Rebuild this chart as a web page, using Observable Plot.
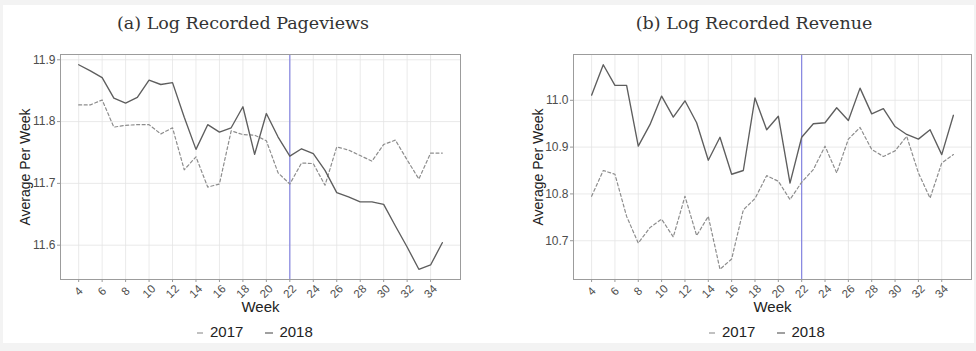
<!DOCTYPE html>
<html>
<head>
<meta charset="utf-8">
<script src="https://cdn.jsdelivr.net/npm/d3@7"></script>
<script src="https://cdn.jsdelivr.net/npm/@observablehq/plot@0.6"></script>
<style>
  html, body { margin: 0; padding: 0; background: #f3f3f3; }
  #root { position: relative; width: 976px; height: 351px; overflow: hidden; background: #f3f3f3; }
  #sheet { position: absolute; left: 3px; top: 5px; width: 971px; height: 338px; background: #ffffff; }
  .title { position: absolute; top: 11px; font-family: "DejaVu Serif", "Liberation Serif", serif; font-size: 17.5px; color: #333; white-space: nowrap; transform: translateX(-50%); line-height: 24px; }
  .panel { position: absolute; top: 40px; }
  .legend { position: absolute; top: 322px; font-family: "Liberation Sans", Arial, sans-serif; font-size: 15px; color: #222; white-space: nowrap; line-height: 20px; }
  .legend svg { vertical-align: middle; }
</style>
</head>
<body>
<div id="root"><div id="sheet"></div></div>
<script>
// ---- data ----
const weeks = [4,5,6,7,8,9,10,11,12,13,14,15,16,17,18,19,20,21,22,23,24,25,26,27,28,29,30,31,32,33,34,35];
const weekTicks = [4,6,8,10,12,14,16,18,20,22,24,26,28,30,32,34];
const treatmentWeek = [22];
const years = ["2017", "2018"];

const pageviews2017 = [11.827,11.827,11.835,11.791,11.794,11.795,11.795,11.780,11.790,11.722,11.743,11.694,11.699,11.785,11.779,11.778,11.769,11.717,11.699,11.733,11.732,11.697,11.759,11.754,11.745,11.736,11.763,11.770,11.738,11.707,11.749,11.749];
const pageviews2018 = [11.892,11.882,11.871,11.838,11.830,11.839,11.867,11.860,11.863,11.807,11.755,11.795,11.783,11.790,11.824,11.747,11.813,11.775,11.744,11.756,11.748,11.721,11.685,11.678,11.670,11.670,11.666,11.631,11.597,11.561,11.568,11.604];
const revenue2017 = [10.795,10.850,10.842,10.752,10.695,10.728,10.746,10.708,10.795,10.711,10.752,10.639,10.661,10.766,10.790,10.839,10.827,10.788,10.825,10.852,10.902,10.845,10.917,10.942,10.895,10.880,10.892,10.923,10.845,10.791,10.866,10.884];
const revenue2018 = [11.011,11.076,11.032,11.032,10.902,10.948,11.009,10.964,10.999,10.952,10.872,10.921,10.842,10.850,11.005,10.937,10.966,10.823,10.921,10.950,10.952,10.984,10.957,11.026,10.971,10.982,10.944,10.927,10.917,10.937,10.884,10.968];

const pageviewTicks = [11.6, 11.7, 11.8, 11.9];
const revenueTicks = [10.7, 10.8, 10.9, 11.0];
const titles = ["(a) Log Recorded Pageviews", "(b) Log Recorded Revenue"];
const xLabel = "Week";
const yLabel = "Average Per Week";

// ---- helpers ----
const rows = (vals) => weeks.map((w, i) => ({week: w, value: vals[i]}));
function padded(vals) {
  const lo = d3.min(vals), hi = d3.max(vals), e = (hi - lo) * 0.05;
  return [lo - e, hi + e];
}
const xPad = (weeks[weeks.length - 1] - weeks[0]) * 0.05;

function panel(v17, v18, yTicks, marginLeft, marginRight) {
  return Plot.plot({
    width: 488, height: 275,
    marginTop: 14, marginBottom: 36, marginLeft, marginRight,
    style: {fontFamily: "'Liberation Sans', Arial, sans-serif", background: "transparent", overflow: "visible"},
    x: {domain: [weeks[0] - xPad, weeks[weeks.length - 1] + xPad], axis: null},
    y: {domain: padded(v17.concat(v18)), axis: null},
    marks: [
      Plot.gridX(weekTicks, {stroke: "#e4e4e4", strokeOpacity: 1, strokeWidth: 0.8}),
      Plot.gridY(yTicks, {stroke: "#e4e4e4", strokeOpacity: 1, strokeWidth: 0.8}),
      Plot.ruleX(treatmentWeek, {stroke: "#7b7be0", strokeWidth: 1.1}),
      Plot.lineY(rows(v17), {x: "week", y: "value", stroke: "#8d8d8d", strokeWidth: 1.2, strokeDasharray: "3,2.5"}),
      Plot.lineY(rows(v18), {x: "week", y: "value", stroke: "#5e5e5e", strokeWidth: 1.35}),
      Plot.frame({stroke: "#9c9c9c", strokeWidth: 1}),
      Plot.axisY(yTicks, {tickSize: 3, tickPadding: 2, tickFormat: d => d.toFixed(1), fontSize: 12, fill: "#4d4d4d", stroke: "#999", label: null}),
      Plot.axisX(weekTicks, {tickSize: 3, tickFormat: () => "", stroke: "#999", label: null}),
      Plot.text(weekTicks, {x: d => d, frameAnchor: "bottom", dy: 12, rotate: -45, text: d => String(d), fontSize: 11.5, fill: "#4d4d4d", textAnchor: "middle", lineAnchor: "middle"}),
      Plot.text([xLabel], {frameAnchor: "bottom", dy: 28, text: d => d, fontSize: 15, fill: "#222", textAnchor: "middle", lineAnchor: "middle"}),
      Plot.text([yLabel], {frameAnchor: "left", dx: -35, rotate: -90, text: d => d, fontSize: 14, fill: "#222", textAnchor: "middle", lineAnchor: "middle"})
    ]
  });
}

const root = document.getElementById("root");

function addPanel(left, titleX, title, v17, v18, yTicks, ml, mr, legendX) {
  const t = document.createElement("div");
  t.className = "title";
  t.style.left = titleX + "px";
  t.textContent = title;
  root.appendChild(t);

  const p = document.createElement("div");
  p.className = "panel";
  p.style.left = left + "px";
  p.appendChild(panel(v17, v18, yTicks, ml, mr));
  root.appendChild(p);

  const lg = document.createElement("div");
  lg.className = "legend";
  lg.style.left = legendX + "px";
  lg.innerHTML =
    `<svg width="14" height="10"><line x1="3" x2="9" y1="5" y2="5" stroke="#a0a0a0" stroke-width="1.3"/></svg>` +
    `<span style="margin-left:2px">${years[0]}</span>` +
    `<svg width="14" height="10" style="margin-left:20px"><line x1="2" x2="10" y1="5" y2="5" stroke="#777" stroke-width="1.4"/></svg>` +
    `<span style="margin-left:2px">${years[1]}</span>`;
  root.appendChild(lg);
}

addPanel(0, 243, titles[0], pageviews2017, pageviews2018, pageviewTicks, 60, 28, 194);
addPanel(488, 754, titles[1], revenue2017, revenue2018, revenueTicks, 85, 5, 706);
</script>
</body>
</html>
